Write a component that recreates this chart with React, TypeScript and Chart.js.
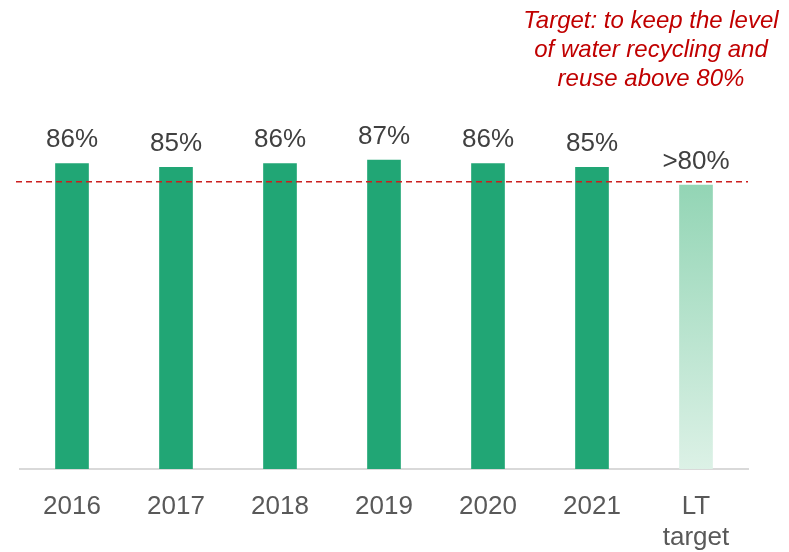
import React, { useEffect, useRef } from "react";
import { Chart, registerables } from "chart.js";

Chart.register(...registerables);

const categories: (string | string[])[] = ["2016", "2017", "2018", "2019", "2020", "2021", ["LT", "target"]];
const values = [86, 85, 86, 87, 86, 85, 80];
const valueLabels = ["86%", "85%", "86%", "87%", "86%", "85%", ">80%"];
const targetLevel = 80.9;
const targetText = ["Target: to keep the level", "of water recycling and", "reuse above 80%"];
const yMax = 100;

const FONT = "'Liberation Sans', Arial, sans-serif";
const GREEN = "#21A675";

const overlayPlugin = {
  id: "overlay",
  afterDatasetsDraw(chart: any) {
    const { ctx, chartArea, scales } = chart;
    const meta = chart.getDatasetMeta(0);
    ctx.save();
    // target dashed line
    const y = scales.y.getPixelForValue(targetLevel);
    ctx.strokeStyle = "#CC1F1F";
    ctx.lineWidth = 1.5;
    ctx.setLineDash([6, 4]);
    ctx.beginPath();
    ctx.moveTo(chartArea.left - 4, y);
    ctx.lineTo(chartArea.right, y);
    ctx.stroke();
    ctx.setLineDash([]);
    // value labels
    ctx.fillStyle = "#404040";
    ctx.font = `26px ${FONT}`;
    ctx.textAlign = "center";
    ctx.textBaseline = "alphabetic";
    meta.data.forEach((bar: any, i: number) => {
      ctx.fillText(valueLabels[i], bar.x, bar.y - 16.5);
    });
    // target annotation
    ctx.fillStyle = "#C00000";
    ctx.font = `italic 24px ${FONT}`;
    const cx = chartArea.right - 97;
    targetText.forEach((line, i) => {
      ctx.fillText(line, cx, 20 + i * 29);
    });
    ctx.restore();
  },
};

export default function App() {
  const ref = useRef<HTMLCanvasElement>(null);
  useEffect(() => {
    if (!ref.current) return;
    const chart = new Chart(ref.current, {
      type: "bar",
      data: {
        labels: categories,
        datasets: [
          {
            data: values,
            backgroundColor: (c: any) => {
              if (c.dataIndex !== values.length - 1) return GREEN;
              const { chart } = c;
              const area = chart.chartArea;
              if (!area) return "#A8DEC3";
              const top = chart.scales.y.getPixelForValue(values[values.length - 1]);
              const g = chart.ctx.createLinearGradient(0, top, 0, area.bottom);
              g.addColorStop(0, "#93D5B5");
              g.addColorStop(1, "#DCF1E6");
              return g;
            },
            barThickness: 33,
            borderWidth: 0,
          },
        ],
      },
      options: {
        animation: false,
        responsive: true,
        maintainAspectRatio: false,
        layout: { padding: { left: 12, right: 33, top: 106, bottom: 0 } },
        plugins: { legend: { display: false }, tooltip: { enabled: false }, title: { display: false } },
        scales: {
          x: {
            grid: { display: false, drawTicks: false },
            border: { display: true, color: "#D9D9D9", width: 2 },
            ticks: { color: "#595959", font: { family: FONT, size: 26, lineHeight: 1.2 }, padding: 22, maxRotation: 0, autoSkip: false },
            afterFit: (scale: any) => {
              scale.height = 83;
            },
          },
          y: { display: false, min: 0, max: yMax },
        },
      },
      plugins: [overlayPlugin],
    });
    return () => chart.destroy();
  }, []);
  return (
    <div style={{ width: 773, height: 544, position: "fixed", top: 8, left: 8 }}>
      <canvas ref={ref} />
    </div>
  );
}
